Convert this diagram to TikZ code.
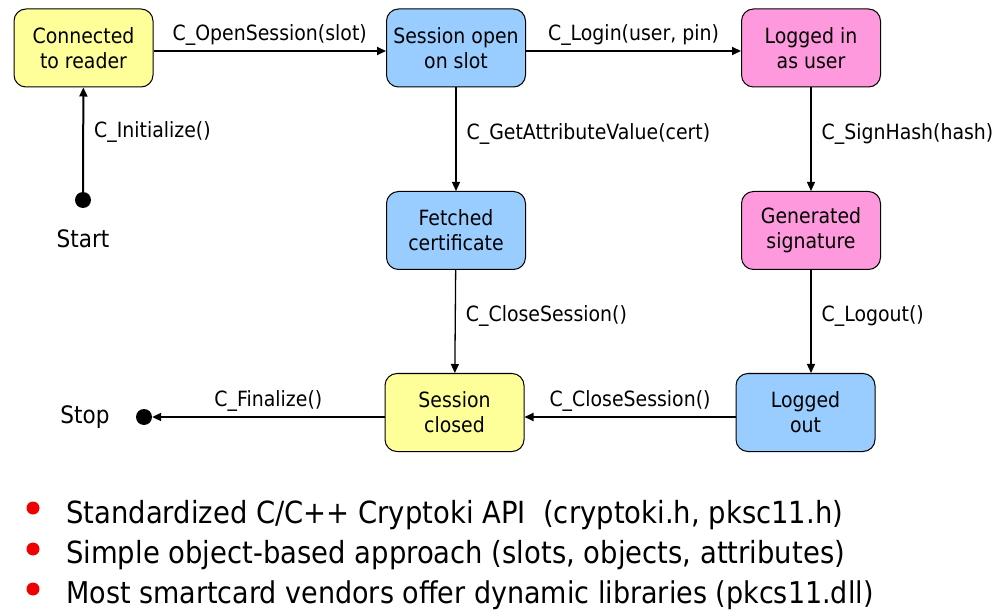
\documentclass[tikz,border=0pt]{standalone}
\usepackage{fontspec}
\setmainfont{DejaVu Sans}[FakeStretch=0.9]
\usetikzlibrary{arrows.meta,positioning}
\definecolor{lemon}{HTML}{FFFF99}
\definecolor{sky}{HTML}{99CCFF}
\definecolor{rose}{HTML}{FF99DD}
\definecolor{bulletred}{HTML}{F00000}

\begin{document}
\begin{tikzpicture}[x=1pt,y=-1pt,>={Triangle[length=9pt,width=8pt]},
  state/.style={draw=black,line width=1pt,rounded corners=12pt,
    minimum width=139pt,minimum height=78pt,inner sep=0pt,align=center,
    font=\fontsize{21}{25}\selectfont},
  call/.style={font=\fontsize{21}{25}\selectfont,inner sep=4pt},
  thick arrow/.style={->,line width=2pt},
  thin arrow/.style={->,line width=1.3pt},
  pseudo/.style={circle,fill=black,minimum size=16pt,inner sep=0pt}]
 \useasboundingbox (0,0) rectangle (1007,612);
 % states
 \node[state,fill=lemon] (conn) at (83.5,48) {Connected\\to reader};
 \node[state,fill=sky] (open) at (456,48) {Session open\\on slot};
 \node[state,fill=rose] (login) at (811,48) {Logged in\\as user};
 \node[state,fill=sky] (fetch) at (456,230.5) {Fetched\\certificate};
 \node[state,fill=rose] (sign) at (811,230.5) {Generated\\signature};
 \node[state,fill=lemon] (closed) at (454.5,412.5) {Session\\closed};
 \node[state,fill=sky] (out) at (805.5,412.5) {Logged\\out};
 \node[pseudo] (start) at (83,200) {};
 \node[pseudo] (stop) at (144,417) {};
 \node[call,font=\fontsize{24}{28}\selectfont,below=17pt of start] (starttext) {Start};
 \node[call,font=\fontsize{24}{28}\selectfont,left=22pt of stop] (stoptext) {Stop};
 % transitions
 \draw[thick arrow] (start) -- (conn)
   node[call,pos=0.57,right=6pt] {C\_Initialize()};
 \draw[thick arrow] ([yshift=-3pt]conn.east) -- ([yshift=-3pt]open.west)
   node[call,midway,above=1pt] {C\_OpenSession(slot)};
 \draw[thick arrow] ([yshift=-3pt]open.east) -- ([yshift=-3pt]login.west)
   node[call,midway,above=1pt] {C\_Login(user, pin)};
 \draw[thin arrow] (open) -- (fetch)
   node[call,pos=0.45,right=6pt] {C\_GetAttributeValue(cert)};
 \draw[thin arrow] (login) -- (sign)
   node[call,pos=0.45,right=6pt] {C\_SignHash(hash)};
 \draw[thin arrow] (fetch) -- (closed)
   node[call,pos=0.45,right=6pt] {C\_CloseSession()};
 \draw[thin arrow] (sign.south) -- (sign.south |- out.north)
   node[call,pos=0.45,right=6pt] {C\_Logout()};
 \draw[thick arrow] ([yshift=-4.5pt]out.west) -- ([yshift=-4.5pt]closed.east)
   node[call,midway,above=1pt] {C\_CloseSession()};
 \draw[thick arrow] ([yshift=-4.5pt]closed.west) -- (stop)
   node[call,midway,above=1pt] {C\_Finalize()};
 % notes
 \fill[bulletred] (33,508) circle (6.5);
 \fill[bulletred] (33,549) circle (6.5);
 \fill[bulletred] (33,589) circle (6.5);
 \node[anchor=base west,inner sep=0pt,font=\fontsize{30.5}{36}\selectfont] (note1) at (66,523)
   {Standardized C/C++ Cryptoki API\ \ (cryptoki.h, pksc11.h)};
 \node[anchor=base west,inner sep=0pt,font=\fontsize{30.5}{36}\selectfont] (note2) at (66,563)
   {Simple object-based approach (slots, objects, attributes)};
 \node[anchor=base west,inner sep=0pt,font=\fontsize{30}{36}\selectfont] (note3) at (66,603)
   {Most smartcard vendors offer dynamic libraries (pkcs11.dll)};
\end{tikzpicture}
\end{document}
